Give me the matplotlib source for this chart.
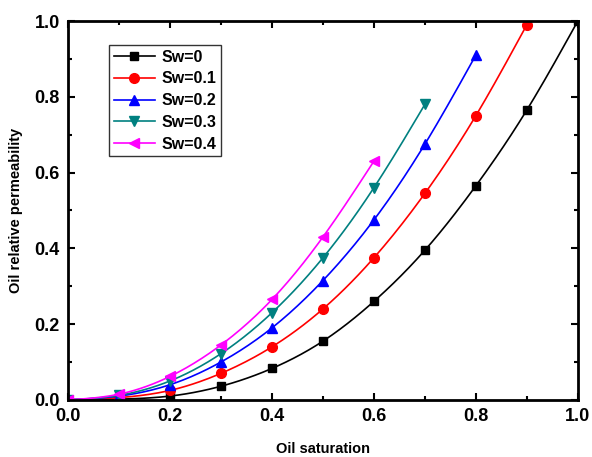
import numpy as np
import matplotlib
matplotlib.use('Agg')
import matplotlib.pyplot as plt
from matplotlib.ticker import MultipleLocator

plt.rcParams['font.family'] = ['Liberation Sans', 'DejaVu Sans']
plt.rcParams['font.weight'] = 'bold'

# Oil saturation values and relative permeability for each water saturation
so_sw0 = [0.0, 0.1, 0.2, 0.3, 0.4, 0.5, 0.6, 0.7, 0.8, 0.9, 1.0]
kro_sw0 = [0.0, 0.002, 0.01, 0.036, 0.083, 0.155, 0.26, 0.395, 0.565, 0.765, 1.0]

so_sw1 = [0.0, 0.1, 0.2, 0.3, 0.4, 0.5, 0.6, 0.7, 0.8, 0.9]
kro_sw1 = [0.0, 0.006, 0.025, 0.07, 0.14, 0.24, 0.375, 0.545, 0.75, 0.99]

so_sw2 = [0.0, 0.1, 0.2, 0.3, 0.4, 0.5, 0.6, 0.7, 0.8]
kro_sw2 = [0.0, 0.01, 0.04, 0.1, 0.19, 0.315, 0.475, 0.675, 0.91]

so_sw3 = [0.0, 0.1, 0.2, 0.3, 0.4, 0.5, 0.6, 0.7]
kro_sw3 = [0.0, 0.012, 0.05, 0.122, 0.23, 0.375, 0.56, 0.78]

so_sw4 = [0.0, 0.1, 0.2, 0.3, 0.4, 0.5, 0.6]
kro_sw4 = [0.0, 0.015, 0.062, 0.145, 0.265, 0.43, 0.63]

labels = ['Sw=0', 'Sw=0.1', 'Sw=0.2', 'Sw=0.3', 'Sw=0.4']
colors = ['black', 'red', 'blue', '#008080', 'magenta']
markers = ['s', 'o', '^', 'v', '<']
msizes = [6, 7, 7, 7, 7]


def natural_spline(x, y, n=200):
    # smooth line through the points, like Origin's spline connection
    x = np.asarray(x, float)
    y = np.asarray(y, float)
    m = len(x)
    h = np.diff(x)
    A = np.zeros((m, m))
    r = np.zeros(m)
    A[0, 0] = A[-1, -1] = 1
    for i in range(1, m - 1):
        A[i, i - 1] = h[i - 1]
        A[i, i] = 2 * (h[i - 1] + h[i])
        A[i, i + 1] = h[i]
        r[i] = 6 * ((y[i + 1] - y[i]) / h[i] - (y[i] - y[i - 1]) / h[i - 1])
    M = np.linalg.solve(A, r)
    xs = np.linspace(x[0], x[-1], n)
    idx = np.clip(np.searchsorted(x, xs) - 1, 0, m - 2)
    x0, x1 = x[idx], x[idx + 1]
    hh = x1 - x0
    a = (x1 - xs) / hh
    b = (xs - x0) / hh
    ys = a * y[idx] + b * y[idx + 1] + ((a**3 - a) * M[idx] + (b**3 - b) * M[idx + 1]) * hh**2 / 6
    return xs, ys


series = [(so_sw0, kro_sw0), (so_sw1, kro_sw1), (so_sw2, kro_sw2),
          (so_sw3, kro_sw3), (so_sw4, kro_sw4)]

fig = plt.figure(figsize=(5.92, 4.57), dpi=100)
ax = fig.add_axes([0.115, 0.125, 0.861, 0.829])

for (x, y), lab, c, mk, ms in zip(series, labels, colors, markers, msizes):
    xs, ys = natural_spline(x, y)
    ax.plot(xs, ys, color=c, lw=1.2)
    ax.plot(x, y, linestyle='none', marker=mk, color=c, ms=ms, mec=c)
    ax.plot([], [], color=c, lw=1.2, marker=mk, ms=ms, label=lab)

ax.set_xlim(0, 1.0)
ax.set_ylim(0, 1.0)
ax.xaxis.set_major_locator(MultipleLocator(0.2))
ax.xaxis.set_minor_locator(MultipleLocator(0.1))
ax.yaxis.set_major_locator(MultipleLocator(0.2))
ax.yaxis.set_minor_locator(MultipleLocator(0.1))
ax.tick_params(which='both', direction='in', top=True, right=True, width=1.5)
ax.tick_params(which='major', length=5, labelsize=13, pad=6)
ax.tick_params(which='minor', length=3)
for s in ax.spines.values():
    s.set_linewidth(2)

ax.set_xlabel('Oil saturation', fontsize=10.5, fontweight='bold', labelpad=12)
ax.set_ylabel('Oil relative permeability', fontsize=10.5, fontweight='bold', labelpad=8)

leg = ax.legend(loc='upper left', bbox_to_anchor=(0.08, 0.937), fontsize=11.5,
                frameon=True, fancybox=False, edgecolor='black', handlelength=2.6,
                borderpad=0.3, labelspacing=0.42, handletextpad=0.4, borderaxespad=0)
leg.get_frame().set_linewidth(1)

fig.savefig('out.png', dpi=100)
